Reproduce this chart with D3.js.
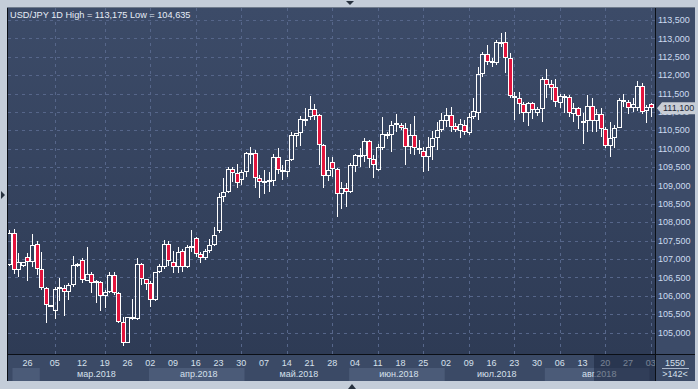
<!DOCTYPE html>
<html><head><meta charset="utf-8">
<script src="https://cdn.jsdelivr.net/npm/d3@7"></script>
<style>html,body{margin:0;padding:0;background:#c4cdd9;overflow:hidden}svg{display:block}</style>
</head><body><svg id="c" width="698" height="389"></svg>
<script>
const title = "USD/JPY 1D High = 113,175 Low = 104,635";
const open  = [106.85,107.70,106.70,106.81,107.05,106.93,107.41,106.72,106.22,105.74,105.60,106.18,106.22,106.10,106.30,106.84,106.97,106.41,106.59,106.36,106.37,106.00,106.11,106.57,106.07,105.28,104.73,105.42,105.36,106.86,106.45,106.34,105.90,106.66,106.79,107.41,106.91,106.78,107.22,106.79,107.33,107.56,107.13,107.02,107.23,107.37,107.75,108.70,108.81,109.45,109.33,109.15,109.36,109.86,109.88,109.20,109.08,109.09,109.13,109.77,109.41,109.38,109.68,110.35,110.42,110.80,110.87,111.08,110.92,110.10,109.27,109.63,109.44,108.76,108.92,108.83,109.54,109.80,109.80,110.21,109.72,109.42,110.03,110.36,110.36,110.65,110.65,110.56,110.06,110.37,110.03,109.94,109.78,110.06,110.28,110.51,110.75,110.92,110.62,110.49,110.65,110.42,110.85,110.98,112.02,112.57,112.39,112.32,112.91,112.89,112.48,111.38,111.37,111.21,110.98,111.23,110.96,111.07,111.89,111.75,111.67,111.25,111.43,111.40,110.94,111.10,110.69,110.75,111.17,110.76,110.94,110.54,110.08,110.30,110.57,111.33,111.26,111.10,111.10,111.70,111.03,111.21];
const high  = [107.78,107.81,107.16,106.93,107.16,107.68,107.50,107.20,106.25,105.75,106.25,106.48,106.30,106.34,107.08,106.88,107.02,107.34,106.66,106.43,106.40,106.16,106.64,106.64,106.11,105.42,105.43,105.91,107.02,106.88,106.46,106.40,106.66,106.86,107.52,107.50,107.23,107.34,107.27,107.38,107.79,107.61,107.20,107.27,107.54,107.86,108.79,109.20,109.50,109.51,109.59,109.42,109.92,110.04,109.97,109.29,109.42,109.38,109.86,110.01,109.56,109.70,110.46,110.44,110.89,111.10,111.42,111.22,110.94,110.12,109.78,109.78,109.47,109.10,109.06,109.60,109.85,110.01,110.28,110.24,109.83,110.12,110.85,110.46,110.75,110.94,110.69,110.69,110.66,110.90,110.24,110.06,110.33,110.48,110.72,110.96,111.10,111.14,110.69,110.80,110.78,110.96,111.37,112.23,112.64,112.82,112.46,112.96,113.14,113.175,112.61,111.55,111.53,111.28,111.26,111.28,111.14,111.96,112.16,111.87,111.89,111.49,111.49,111.46,111.23,111.13,110.96,111.46,111.37,111.08,111.12,110.60,110.74,110.65,111.37,111.48,111.33,111.37,111.84,111.78,111.19,111.24];
const low   = [106.80,106.59,106.52,106.78,106.39,106.79,106.57,106.16,105.25,105.69,105.36,105.87,105.46,105.89,106.25,106.79,106.34,106.40,106.07,105.80,105.60,105.66,106.07,106.02,105.25,104.635,104.71,105.34,105.34,106.30,106.16,105.69,105.86,106.61,106.72,106.82,106.61,106.61,106.66,106.77,107.20,107.05,106.88,106.97,107.17,107.36,107.70,108.56,108.79,109.10,108.92,109.01,109.22,109.59,108.94,108.65,108.76,108.83,108.99,109.30,109.15,109.22,109.66,110.06,110.07,110.62,110.78,110.78,109.56,108.94,109.13,109.22,108.13,108.35,108.41,108.79,109.38,109.49,109.63,109.47,109.21,109.39,109.97,110.26,109.92,110.46,110.51,109.56,109.85,109.83,109.85,109.38,109.39,109.69,109.97,110.46,110.60,110.46,110.45,110.30,110.37,110.37,110.80,110.78,111.94,112.28,112.23,112.28,112.76,112.05,111.37,110.77,110.94,110.74,110.62,110.80,110.90,110.74,111.37,111.32,111.13,111.10,110.98,110.85,110.74,110.53,110.12,110.45,110.46,110.46,110.33,110.03,109.78,110.03,110.55,111.14,110.94,110.99,111.03,110.94,110.69,110.87];
const close = [107.72,106.70,106.91,106.91,106.93,107.38,106.72,106.22,105.74,105.72,106.19,106.23,106.10,106.30,106.84,106.86,106.43,106.59,106.34,106.39,106.00,106.11,106.57,106.07,105.28,104.73,105.42,105.36,106.86,106.45,106.31,105.90,106.66,106.81,107.41,106.96,106.78,107.20,106.79,107.34,107.35,107.14,107.02,107.23,107.37,107.66,108.70,108.81,109.45,109.33,109.08,109.36,109.88,109.89,109.20,109.10,109.11,109.15,109.77,109.42,109.39,109.68,110.37,110.42,110.81,110.77,111.08,110.90,110.10,109.27,109.42,109.44,108.76,108.92,108.82,109.56,109.83,109.83,110.21,109.72,109.56,110.06,110.40,110.39,110.65,110.69,110.56,110.06,110.37,110.01,109.99,109.78,110.06,110.30,110.51,110.78,110.92,110.60,110.51,110.67,110.46,110.85,111.03,112.03,112.57,112.37,112.32,112.91,112.85,112.48,111.42,111.43,111.22,110.98,111.23,111.05,111.07,111.89,111.73,111.66,111.28,111.43,111.40,110.96,111.10,110.89,110.75,111.17,110.75,110.94,110.54,110.07,110.30,110.57,111.33,111.26,111.10,111.21,111.70,110.99,111.13,111.10];
const weekLabels = ["26","05","12","19","26","02","09","16","23","30","07","14","21","28","04","11","18","25","02","09","16","23","30","06","13","20","27","03"];
const weekIdx    = [4,10,16,21,26,31,36,41,46,51,56,61,66,71,76,81,86,91,96,101,106,111,116,121,126,131,136,141];
const monthLabels = ["фев.2018","мар.2018","апр.2018","май.2018","июн.2018","июл.2018","авг.2018","сен.2018"];
const monthStart  = [1,7,31,52,75,96,118,141,146];
const yTicks = [105,105.5,106,106.5,107,107.5,108,108.5,109,109.5,110,110.5,111,111.5,112,112.5,113,113.5];
const lastPrice = 111.100;
const infoTexts = ["1550", ">142<"];

const svg = d3.select("#c");
const W = 698, H = 389;
const L = 8, R = 655, T = 8, B = 354, AX = 695, BB = 381;
const fmt = v => d3.format(",.3f")(v).replace(/,/g, "#").replace(".", ",").replace(/#/g, "");
const n = open.length;
const x = d3.scaleLinear().domain([0, n - 1]).range([9.2, 9.2 + 4.55 * (n - 1)]);
const y = d3.scaleLinear().domain([105, 113.5]).range([332.6, 20]);

const defs = svg.append("defs");
const gr = defs.append("linearGradient").attr("id", "bg").attr("x1", 0).attr("x2", 0).attr("y1", 0).attr("y2", 1);
gr.append("stop").attr("offset", 0).attr("stop-color", "#3c4b68");
gr.append("stop").attr("offset", 1).attr("stop-color", "#2e3b55");
defs.append("clipPath").attr("id", "pc").append("rect").attr("x", L).attr("y", T).attr("width", R - L).attr("height", B - T);
defs.append("clipPath").attr("id", "ac").append("rect").attr("x", L).attr("y", B).attr("width", R - L).attr("height", BB - B);

svg.append("rect").attr("width", W).attr("height", H).attr("fill", "#c4cdd9");
svg.append("rect").attr("x", L).attr("y", T).attr("width", R - L).attr("height", B - T).attr("fill", "url(#bg)");
svg.append("rect").attr("x", R).attr("y", T).attr("width", AX - R).attr("height", B - T).attr("fill", "#3c4b68");
svg.append("rect").attr("x", L).attr("y", B).attr("width", AX - L).attr("height", BB - B).attr("fill", "#3b4a66");

const grid = svg.append("g").attr("clip-path", "url(#pc)").attr("stroke", "#56668a").attr("stroke-dasharray", "3,4").attr("shape-rendering", "crispEdges");
grid.selectAll("line.h").data(yTicks).join("line")
  .attr("x1", L).attr("x2", R).attr("y1", d => Math.round(y(d)) + 0.5).attr("y2", d => Math.round(y(d)) + 0.5);
grid.selectAll("line.v").data(weekIdx.filter((d, k) => k % 2 === 1)).join("line")
  .attr("y1", T).attr("y2", B).attr("x1", d => Math.round(x(d)) + 0.5).attr("x2", d => Math.round(x(d)) + 0.5);

const cg = svg.append("g").attr("clip-path", "url(#pc)").attr("shape-rendering", "crispEdges");
d3.range(n).forEach(i => {
  const o = open[i], c = close[i], h = high[i], l = low[i];
  const cx = Math.round(x(i));
  let top = Math.round(y(Math.max(o, c))), bot = Math.round(y(Math.min(o, c)));
  if (bot - top < 2) bot = top + 2;
  const yh = Math.round(y(h)), yl = Math.round(y(l));
  const g = cg.append("g");
  if (yh < top) g.append("line").attr("x1", cx + 0.5).attr("x2", cx + 0.5).attr("y1", yh).attr("y2", top).attr("stroke", "#fff");
  if (yl > bot) g.append("line").attr("x1", cx + 0.5).attr("x2", cx + 0.5).attr("y1", bot - 1).attr("y2", yl).attr("stroke", "#fff");
  g.append("rect").attr("x", cx - 1.5).attr("y", top + 0.5).attr("width", 4).attr("height", bot - top - 1)
    .attr("fill", c < o ? "#e3143d" : "none").attr("stroke", "#fff").attr("stroke-width", 1);
});

svg.append("text").attr("x", 10).attr("y", 18).attr("fill", "#e6edf6")
  .attr("font-family", "Liberation Sans, Arial, sans-serif").attr("font-size", "9.2px").text(title);

svg.append("g").selectAll("text").data(yTicks).join("text")
  .attr("x", 658).attr("y", d => y(d)).attr("dy", "0.35em")
  .attr("fill", "#cddcf0").attr("font-family", "Liberation Sans, Arial, sans-serif").attr("font-size", "9px")
  .text(d => fmt(d));

const py = y(lastPrice);
svg.append("path").attr("d", `M657,${py} L662,${py - 6} L${AX},${py - 6} L${AX},${py + 6} L662,${py + 6} Z`).attr("fill", "#c8cdd5");
svg.append("text").attr("x", 663).attr("y", py).attr("dy", "0.35em").attr("fill", "#1d2838")
  .attr("font-family", "Liberation Sans, Arial, sans-serif").attr("font-size", "9px").text(fmt(lastPrice));

const ax = svg.append("g").attr("clip-path", "url(#ac)");
const bands = monthLabels.map((m, k) => ({ m, k, x0: x(monthStart[k] - 0.5) + 1, x1: x(monthStart[k + 1] - 0.5) + 1 }));
ax.selectAll("rect.b").data(bands.filter(b => b.k % 2 === 0)).join("rect")
  .attr("x", b => b.x0).attr("width", b => b.x1 - b.x0).attr("y", 368).attr("height", BB - 368).attr("fill", "#4b5b78");
ax.selectAll("text.m").data(bands.filter(b => b.x1 - b.x0 > 50)).join("text")
  .attr("x", b => (b.x0 + b.x1) / 2 + 2).attr("y", 374).attr("dy", "0.35em").attr("text-anchor", "middle")
  .attr("fill", "#d6e0ec").attr("font-family", "Liberation Sans, Arial, sans-serif").attr("font-size", "9px").text(b => b.m);
ax.selectAll("text.w").data(weekIdx).join("text")
  .attr("x", (d) => x(d)).attr("y", 363).attr("dy", "0.35em").attr("text-anchor", "middle")
  .attr("fill", "#d6e0ec").attr("font-family", "Liberation Sans, Arial, sans-serif").attr("font-size", "9px")
  .text((d, k) => weekLabels[k]);
ax.append("rect").attr("x", 594).attr("y", B).attr("width", R - 594).attr("height", BB - B).attr("fill", "#18213a").attr("opacity", 0.5);

svg.append("text").attr("x", 675).attr("y", 363).attr("dy", "0.35em").attr("text-anchor", "middle")
  .attr("fill", "#d6e0ec").attr("font-family", "Liberation Sans, Arial, sans-serif").attr("font-size", "9px").text(infoTexts[0]);
svg.append("line").attr("x1", 662).attr("x2", 689).attr("y1", 368.5).attr("y2", 368.5).attr("stroke", "#aab8cc");
svg.append("text").attr("x", 675).attr("y", 374).attr("dy", "0.35em").attr("text-anchor", "middle")
  .attr("fill", "#d6e0ec").attr("font-family", "Liberation Sans, Arial, sans-serif").attr("font-size", "9px").text(infoTexts[1]);

const bd = svg.append("g").attr("stroke", "#0b0f16").attr("shape-rendering", "crispEdges");
bd.append("line").attr("x1", L - 0.5).attr("x2", L - 0.5).attr("y1", T - 1).attr("y2", BB);
bd.append("line").attr("x1", L - 1).attr("x2", AX).attr("y1", T - 0.5).attr("y2", T - 0.5).attr("stroke", "#6f7b8c");
bd.append("line").attr("x1", R + 0.5).attr("x2", R + 0.5).attr("y1", T).attr("y2", BB);
bd.append("line").attr("x1", L).attr("x2", AX).attr("y1", B + 0.5).attr("y2", B + 0.5);

svg.append("path").attr("d", "M346,1 L354,1 L350,5 Z").attr("fill", "#27313f");
svg.append("path").attr("d", "M1,191 L5,195 L1,199 Z").attr("fill", "#27313f");
svg.append("path").attr("d", "M348,389 L356,389 L352,384 Z").attr("fill", "#27313f");
</script></body></html>
